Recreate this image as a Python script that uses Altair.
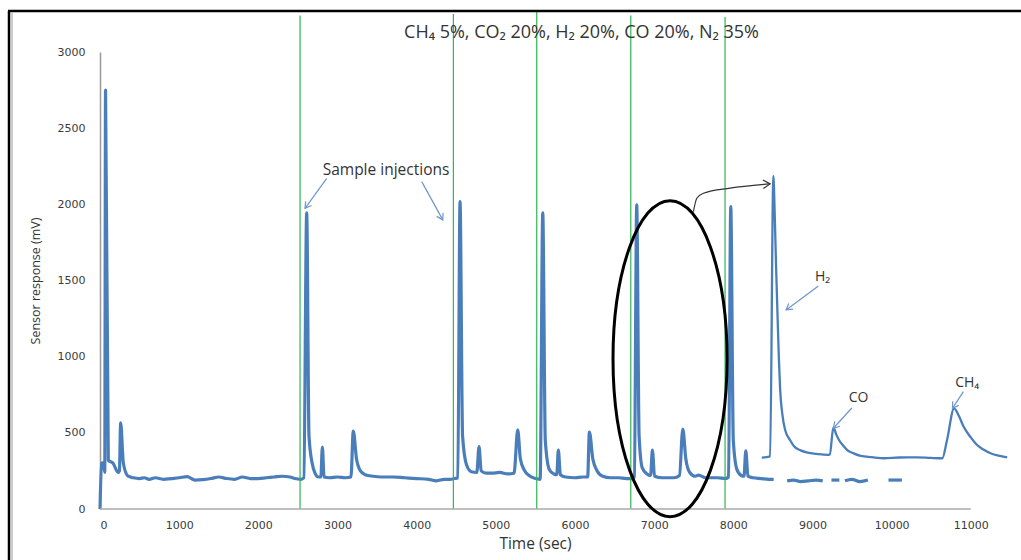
import altair as alt
import pandas as pd

# ---------------- data ----------------
# main sensor trace (time s, response mV); None = gap in the trace
main_t = [0, 20, 45, 60, 70, 105, 165, 230, 245, 261, 295, 355, 420, 500, 560, 620, 700, 800, 900,
          1000, 1100, 1200, 1300, 1400, 1500, 1600, 1700, 1800, 1900, 2000, 2100, 2200, 2300,
          2400, 2460, 2540, 2575, 2611, 2640, 2680, 2716, 2760, 2790, 2809, 2830, 2900, 3000,
          3100, 3170, 3200, 3240, 3290, 3350, 3450, 3550, 3700, 3850, 4000, 4150, 4250, 4350,
          4420, 4480, 4520, 4548, 4580, 4630, 4690, 4760, 4788, 4815, 4880, 4950, 5050, 5150,
          5230, 5277, 5310, 5360, 5420, 5500, 5560, 5593, 5625, 5675, 5735, 5770, 5790, 5815,
          5880, 6000, 6100, 6160, 6182, 6225, 6280, 6350, 6450, 6550, 6650, 6720, 6750, 6780,
          6810, 6850, 6910, 6955, 6978, 7005, 7100, 7250, 7320, 7362, 7400, 7450, 7520, 7560,
          7650, 7800, 7900, 7940, 7968, 8000, 8045, 8100, 8135, 8158, 8185, 8250, 8350, 8450,
          8510, None, 8680, 8760, 8850, 8950, 9050, 9130, None, 9240, 9340, None, 9410, 9500,
          9600, 9700, None, 9960, 10130]
main_v = [0, 300, 305, 240, 2750, 320, 300, 240, 250, 565, 300, 215, 205, 200, 205, 195, 205, 195, 200,
          205, 212, 190, 193, 200, 210, 200, 195, 210, 200, 200, 205, 210, 215,
          210, 200, 195, 205, 1944, 480, 300, 236, 210, 210, 407, 210, 205, 210,
          205, 210, 512, 330, 250, 225, 215, 210, 210, 205, 200, 195, 185, 195,
          195, 200, 205, 2018, 480, 290, 245, 240, 409, 250, 235, 235, 240, 230,
          235, 519, 330, 255, 220, 200, 195, 1944, 450, 260, 230, 225, 387, 225,
          210, 205, 210, 210, 505, 330, 250, 215, 205, 205, 200, 200, 210, 1996,
          480, 270, 230, 220, 387, 215, 205, 205, 220, 525, 330, 240, 215, 223,
          205, 205, 200, 210, 1985, 450, 260, 220, 215, 381, 215, 205, 200, 195,
          195, None, 185, 190, 180, 185, 190, 185, None, 190, 190, None, 185, 195,
          180, 190, None, 190, 190]

# second trace (H2 / CO / CH4 separation)
sep_t = [8360, 8465, 8506, 8525, 8540, 8557, 8575, 8591, 8620, 8654, 8720, 8770, 8850, 8940, 9050,
         9190, 9220, 9264, 9300, 9335, 9390, 9440, 9520, 9610, 9750, 9900, 10100, 10320, 10500,
         10640, 10700, 10789, 10850, 10910, 11000, 11080, 11160, 11250, 11350, 11460]
sep_v = [337, 345, 2186, 1900, 1600, 1300, 1000, 790, 620, 520, 450, 410, 385, 370, 362,
         355, 360, 536, 490, 453, 415, 387, 365, 348, 340, 333, 338, 339, 335,
         333, 453, 661, 610, 540, 470, 420, 390, 366, 350, 339]

# green injection markers
inj_t = [2527, 4464, 5517, 6705, 7896]
inj_top = [3240, 3250, 3265, 3240, 3230]

title_text = "CH\u2084 5%, CO\u2082 20%, H\u2082 20%, CO 20%, N\u2082 35%"

# annotation labels
lab_text = ["Sample injections", "H\u2082", "CO", "CH\u2084"]
lab_x = [3613, 9128, 9583, 10954]
lab_y = [2226, 1525, 729, 827]
lab_size = [15.5, 14, 14, 14]

# blue annotation arrows (start -> tip) and tip angles
arr_x1 = [2864, 4064, 9075, 9497, 10907]
arr_y1 = [2171, 2149, 1464, 663, 770]
arr_x2 = [2590, 4330, 8667, 9264, 10768]
arr_y2 = [1974, 1898, 1307, 530, 661]
arr_ang = [126, 61, 143, 132, 124]

# black curved arrow from ellipse
curve_x = [7496, 7539, 7622, 7959, 8465]
curve_y = [1952, 2040, 2073, 2106, 2134]

# ellipse centre
ell_x = [7201]
ell_y = [987]

# ---------------- tables ----------------
s = 0
rows = []
for t, v in zip(main_t, main_v):
    if t is None:
        s += 1
        continue
    rows.append({"t": t, "v": v, "seg": s})
main_df = pd.DataFrame(rows)
sep_df = pd.DataFrame({"t": sep_t, "v": sep_v})
inj_df = pd.DataFrame({"t": inj_t, "top": inj_top, "bot": [0] * len(inj_t)})
lab_df = pd.DataFrame({"x": lab_x, "y": lab_y, "text": lab_text, "fs": lab_size})
arr_df = pd.DataFrame({"x": arr_x1, "y": arr_y1, "x2": arr_x2, "y2": arr_y2, "ang": arr_ang})
curve_df = pd.DataFrame({"x": curve_x, "y": curve_y, "o": range(len(curve_x))})
ell_df = pd.DataFrame({"x": ell_x, "y": ell_y})
title_df = pd.DataFrame({"x": [6083], "y": [3125], "text": [title_text]})
axis_df = pd.DataFrame({"x": [0], "x2": [11000], "y": [0]})

BLUE = "#4a7ebb"
GREEN = "#2fb552"
FONT = "Open Sans"

xs = alt.Scale(domain=[0, 11470], nice=False, zero=False)
ys = alt.Scale(domain=[0, 3000], nice=False)

X = alt.X("t:Q", scale=xs, axis=alt.Axis(
    values=list(range(0, 11001, 1000)), format="d", title="Time (sec)", grid=False,
    domain=False, ticks=False, labelPadding=10, labelFont="DejaVu Sans", labelFontSize=11,
    labelColor="#3a3a3a", titleFont=FONT, titleFontSize=15.5, titleFontWeight="normal",
    titleColor="#333333", titleX=435, titleY=34, titleBaseline="middle"))
Y = alt.Y("v:Q", scale=ys, axis=alt.Axis(
    values=list(range(0, 3001, 500)), format="d", title="Sensor response (mV)", grid=False,
    domain=True, domainColor="#999999", domainWidth=1.5, ticks=False, labelPadding=15,
    labelFont="DejaVu Sans", labelFontSize=11, labelColor="#3a3a3a", titleFont=FONT,
    titleFontSize=12.5, titleFontWeight="normal", titleColor="#333333", titleX=-58))

green = alt.Chart(inj_df).mark_rule(color=GREEN, strokeWidth=1.2, clip=False).encode(
    x=alt.X("t:Q", scale=xs), y=alt.Y("bot:Q", scale=ys), y2="top:Q")

xaxis_line = alt.Chart(axis_df).mark_rule(color="#aaaaaa", strokeWidth=1.5).encode(
    x=alt.X("x:Q", scale=xs), x2="x2:Q", y=alt.Y("y:Q", scale=ys))

main = alt.Chart(main_df).mark_line(color=BLUE, strokeWidth=3.2, strokeJoin="round",
                                    interpolate="monotone").encode(
    x=X, y=Y, detail="seg:N", order="t:Q")

sep = alt.Chart(sep_df).mark_line(color=BLUE, strokeWidth=2.3, strokeJoin="round",
                                  interpolate="monotone").encode(
    x=alt.X("t:Q", scale=xs), y=alt.Y("v:Q", scale=ys), order="t:Q")

ellipse_path = "M -0.361 0 A 0.361 1 0 1 0 0.361 0 A 0.361 1 0 1 0 -0.361 0 Z"
ellipse = alt.Chart(ell_df).mark_point(shape=ellipse_path, size=99856, filled=False,
                                       color="black", strokeWidth=3, opacity=1).encode(
    x=alt.X("x:Q", scale=xs), y=alt.Y("y:Q", scale=ys))

curve = alt.Chart(curve_df).mark_line(color="#333333", strokeWidth=1.2, interpolate="monotone",
                                      clip=False).encode(
    x=alt.X("x:Q", scale=xs), y=alt.Y("y:Q", scale=ys), order="o:Q")

chev = "M -1 -0.6 L 0 0 L -1 0.6"
curve_tip = alt.Chart(curve_df[curve_df.o == len(curve_x) - 1]).mark_point(
    shape=chev, size=196, filled=False, color="#333333", strokeWidth=1.2, opacity=1,
    angle=357).encode(x=alt.X("x:Q", scale=xs), y=alt.Y("y:Q", scale=ys))

arrows = alt.Chart(arr_df).mark_rule(color="#6f95c9", strokeWidth=1.2).encode(
    x=alt.X("x:Q", scale=xs), y=alt.Y("y:Q", scale=ys), x2="x2:Q", y2="y2:Q")
tips = alt.Chart(arr_df).mark_point(shape=chev, size=144, filled=False, color="#6f95c9",
                                    strokeWidth=1.2, opacity=1).encode(
    x=alt.X("x2:Q", scale=xs), y=alt.Y("y2:Q", scale=ys), angle=alt.Angle("ang:Q", scale=None))

labels = alt.Chart(lab_df).mark_text(font=FONT, color="#333333").encode(
    x=alt.X("x:Q", scale=xs), y=alt.Y("y:Q", scale=ys), text="text:N",
    size=alt.Size("fs:Q", scale=None, legend=None))

title = alt.Chart(title_df).mark_text(font=FONT, fontSize=18, color="#333333").encode(
    x=alt.X("x:Q", scale=xs), y=alt.Y("y:Q", scale=ys), text="text:N")

frame_l = alt.Chart(axis_df).mark_rule(color="black", strokeWidth=2.5, clip=False).encode(
    x=alt.value(-91), y=alt.value(-41), y2=alt.value(520))
frame_l2 = alt.Chart(axis_df).mark_rule(color="#bbbbbb", strokeWidth=1.5, clip=False).encode(
    x=alt.value(-88), y=alt.value(-39), y2=alt.value(520))
frame_t = alt.Chart(axis_df).mark_rule(color="black", strokeWidth=2.5, clip=False).encode(
    x=alt.value(-92), x2=alt.value(930), y=alt.value(-41))

chart = alt.layer(
    main, green, xaxis_line, sep, ellipse, curve, curve_tip, arrows, tips, labels, title,
    frame_l, frame_l2, frame_t
).properties(
    width=908, height=457,
    autosize=alt.AutoSizeParams(type="none"),
    padding={"left": 100, "top": 52, "right": 13, "bottom": 51},
    background="white",
).configure_view(stroke=None)

chart.save("out.html", embed_options={"renderer": "svg", "actions": False})
